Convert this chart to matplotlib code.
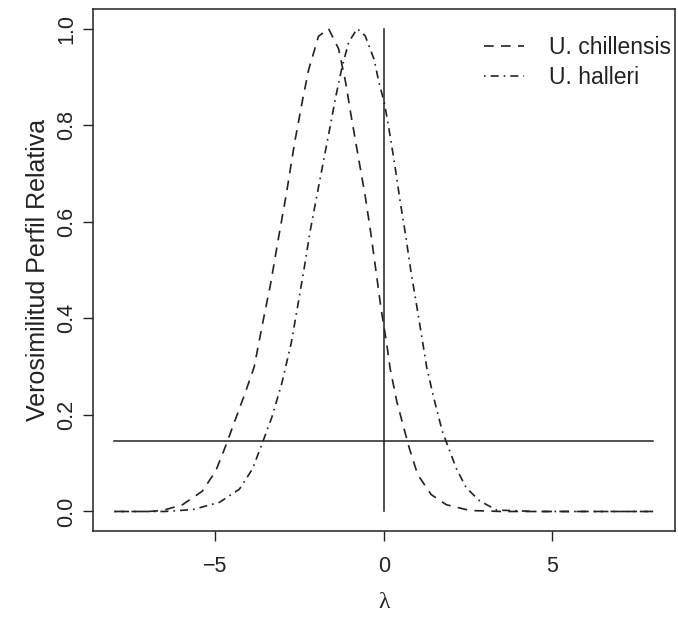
import matplotlib
matplotlib.use("Agg")
import matplotlib.pyplot as plt

# relative profile likelihood of lambda, U. chillensis
lam_chil = [-8.0, -7.0, -6.57, -5.98, -5.39, -4.99, -4.70, -4.12, -3.85, -3.60,
            -3.36, -3.12, -2.89, -2.65, -2.41, -2.23, -1.94, -1.64, -1.34, -1.13,
            -0.97, -0.76, -0.55, -0.40, -0.24, -0.08, 0.08, 0.19, 0.39, 0.60,
            0.76, 1.01, 1.41, 1.86, 2.56, 3.5, 5.0, 6.5, 8.0]
rp_chil = [0.0, 0.0, 0.002, 0.014, 0.042, 0.084, 0.135, 0.245, 0.299, 0.389,
           0.472, 0.569, 0.659, 0.763, 0.853, 0.915, 0.984, 1.0, 0.958, 0.888,
           0.82, 0.736, 0.653, 0.584, 0.503, 0.42, 0.351, 0.296, 0.227, 0.172,
           0.131, 0.076, 0.035, 0.014, 0.002, 0.0, 0.0, 0.0, 0.0]

# relative profile likelihood of lambda, U. halleri
lam_hall = [-8.0, -7.0, -6.5, -5.67, -4.88, -4.29, -3.90, -3.61, -3.32, -3.03,
            -2.75, -2.56, -2.37, -2.18, -1.99, -1.80, -1.61, -1.42, -1.23, -1.04,
            -0.79, -0.55, -0.29, -0.14, 0.02, 0.17, 0.33, 0.49, 0.65, 0.81,
            0.96, 1.12, 1.28, 1.49, 1.74, 2.15, 2.45, 2.85, 3.35, 4.5, 6.0, 8.0]
rp_hall = [0.0, 0.0, 0.0, 0.004, 0.019, 0.046, 0.088, 0.141, 0.196, 0.265,
           0.348, 0.424, 0.501, 0.583, 0.653, 0.722, 0.791, 0.861, 0.923, 0.972,
           1.0, 0.985, 0.937, 0.888, 0.846, 0.786, 0.717, 0.641, 0.572, 0.496,
           0.434, 0.366, 0.297, 0.234, 0.166, 0.09, 0.049, 0.022, 0.003, 0.0, 0.0, 0.0]

labels = ["U. chillensis", "U. halleri"]
cut = 0.147          # 95% cut-off level
lam_range = [-8, 8]

ink = "#222222"
plt.rcParams["font.family"] = ["Liberation Sans", "DejaVu Sans"]

fig = plt.figure(figsize=(6.78, 6.23), dpi=100)
ax = fig.add_axes([0.137, 0.148, 0.858, 0.837])

l1, = ax.plot(lam_chil, rp_chil, color=ink, lw=1.2)
l1.set_dashes([5.8, 4.4])
l2, = ax.plot(lam_hall, rp_hall, color=ink, lw=1.2)
l2.set_dashes([1.0, 3.0, 4.8, 3.0])

ax.plot(lam_range, [cut, cut], color=ink, lw=1.1)
ax.plot([0, 0], [0, 1], color=ink, lw=1.1)

ax.set_xlim(-8.64, 8.64)
ax.set_ylim(-0.04, 1.04)
ax.set_xticks([-5, 0, 5])
ax.set_xticklabels(["\u22125", "0", "5"])
ax.set_yticks([0.0, 0.2, 0.4, 0.6, 0.8, 1.0])
ax.set_yticklabels(["0.0", "0.2", "0.4", "0.6", "0.8", "1.0"], rotation=90, va="center")

for s in ax.spines.values():
    s.set_color(ink)
    s.set_linewidth(1.1)
ax.tick_params(axis="both", direction="out", length=7, width=1.0, color=ink,
               labelcolor=ink, labelsize=15.5)
ax.tick_params(axis="x", pad=11)
ax.tick_params(axis="y", pad=4)

ax.set_xlabel("\u03bb", fontsize=17, color=ink, family="Liberation Serif", labelpad=11)
ax.set_ylabel("Verosimilitud Perfil Relativa", fontsize=18, color=ink, labelpad=5)

ax.legend([l1, l2], labels, loc="upper right", bbox_to_anchor=(1.006, 0.962),
          frameon=False, fontsize=16.5, handlelength=1.75, handletextpad=1.1,
          labelspacing=0.3, borderaxespad=0.1, borderpad=0.2, labelcolor=ink)

fig.savefig("out.png", dpi=100)
